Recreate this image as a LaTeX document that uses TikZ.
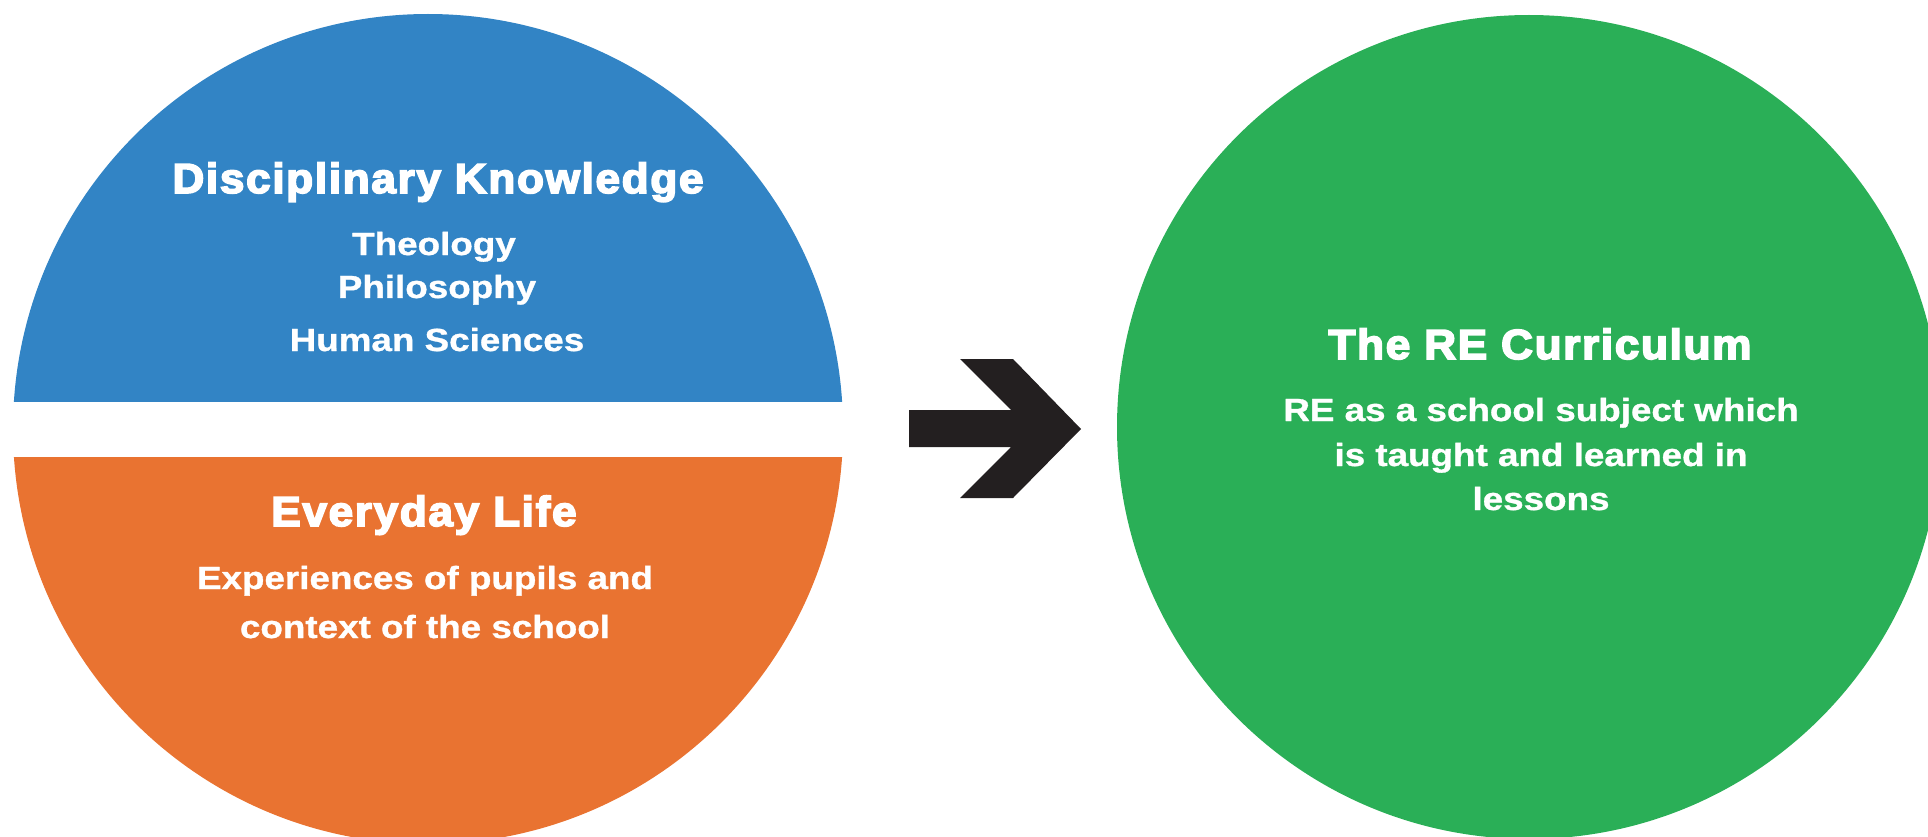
\documentclass[tikz,border=0pt]{standalone}
\usepackage{fontspec}
\setmainfont{Liberation Sans}
\newfontfamily\titlefont{Liberation Sans}[BoldFeatures={FakeStretch=1.05,FakeBold=4,LetterSpace=4}]
\newfontfamily\bodyfont{Liberation Sans}[BoldFeatures={FakeStretch=1.15,FakeBold=1}]
\definecolor{discblue}{RGB}{50,132,197}
\definecolor{lifeorange}{RGB}{233,115,49}
\definecolor{regreen}{RGB}{42,175,87}
\definecolor{arrowdark}{RGB}{35,31,32}
\tikzset{
  titletext/.style={text=white, inner sep=0pt, anchor=base, font=\titlefont\bfseries\fontsize{42}{46}\selectfont},
  bodytext/.style={text=white, inner sep=0pt, anchor=base, font=\bodyfont\bfseries\fontsize{32}{36}\selectfont},
}
\begin{document}
\begin{tikzpicture}[x=1pt,y=-1pt]
\useasboundingbox (0,0) rectangle (1928,837);
\clip (0,0) rectangle (1928,837);
% left circle, cut in two halves
\begin{scope}
  \clip (0,0) rectangle (1928,401);
  \fill[discblue] (428,429) circle[radius=415pt];
\end{scope}
\begin{scope}
  \clip (0,457) rectangle (1928,837);
  \fill[lifeorange] (428,429) circle[radius=415pt];
\end{scope}
% right circle
\node[circle, fill=regreen, minimum size=824pt, inner sep=0pt] (curr) at (1529,427) {};
% block arrow
\fill[arrowdark] (909,410) -- (1011,410) -- (960,359) -- (1013,359) -- (1081,429)
  -- (1013,498) -- (960,498) -- (1011,447) -- (909,447) -- cycle;
% texts
\node[titletext] (dk) at (438,193) {Disciplinary Knowledge};
\node[bodytext] (theo) at (434,255) {Theology};
\node[bodytext] (phil) at (437,298) {Philosophy};
\node[bodytext] (hum) at (437,351) {Human Sciences};
\node[titletext] (el) at (424,526) {Everyday Life};
\node[bodytext] (exp1) at (425,589) {Experiences of pupils and};
\node[bodytext] (exp2) at (425,638) {context of the school};
\node[titletext] (rc) at (1540,359) {The RE Curriculum};
\node[bodytext] (re1) at (1541,421) {RE as a school subject which};
\node[bodytext] (re2) at (1541,466) {is taught and learned in};
\node[bodytext] (re3) at (1541,510) {lessons};
\end{tikzpicture}
\end{document}
